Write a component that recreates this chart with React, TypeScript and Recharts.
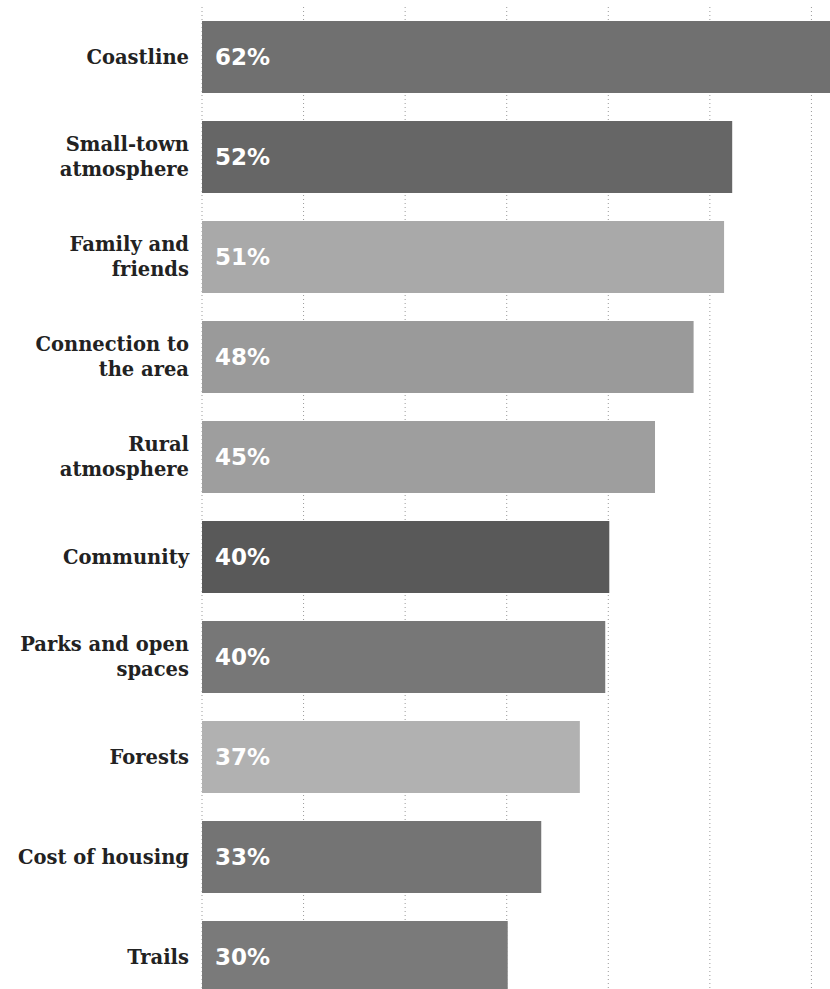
import React from "react";
import { BarChart, Bar, XAxis, YAxis, CartesianGrid, Cell, LabelList } from "recharts";

const categories: string[] = [
  "Coastline",
  "Small-town atmosphere",
  "Family and friends",
  "Connection to the area",
  "Rural atmosphere",
  "Community",
  "Parks and open spaces",
  "Forests",
  "Cost of housing",
  "Trails",
];

const categoryLines: string[][] = [
  ["Coastline"],
  ["Small-town", "atmosphere"],
  ["Family and", "friends"],
  ["Connection to", "the area"],
  ["Rural", "atmosphere"],
  ["Community"],
  ["Parks and open", "spaces"],
  ["Forests"],
  ["Cost of housing"],
  ["Trails"],
];

const shares: number[] = [62, 52.2, 51.4, 48.4, 44.6, 40.1, 39.7, 37.2, 33.4, 30.1];

const barColors: string[] = [
  "#707070",
  "#666666",
  "#a9a9a9",
  "#9a9a9a",
  "#9e9e9e",
  "#595959",
  "#777777",
  "#b1b1b1",
  "#747474",
  "#7a7a7a",
];

const xTicks: number[] = [0, 10, 20, 30, 40, 50, 60, 70];

const data = categories.map((c, i) => ({ name: c, value: shares[i], idx: i }));

const CategoryTick = (props: any) => {
  const { x, y, payload } = props;
  const idx = categories.indexOf(payload.value);
  const lines = idx >= 0 ? categoryLines[idx] : [payload.value];
  const lh = 25;
  const start = -((lines.length - 1) * lh) / 2;
  return (
    <g>
      {lines.map((ln, k) => (
        <text
          key={k}
          x={x - 5}
          y={y + start + k * lh}
          textAnchor="end"
          dominantBaseline="central"
          fontFamily="'DejaVu Serif', serif"
          fontWeight={600}
          fontSize={19.5}
          fill="#222"
        >
          {ln}
        </text>
      ))}
    </g>
  );
};

const ValueLabel = (props: any) => {
  const { x, y, height, value } = props;
  return (
    <text
      x={x + 13}
      y={y + height / 2}
      textAnchor="start"
      dominantBaseline="central"
      fontFamily="'DejaVu Sans', sans-serif"
      fontWeight={700}
      fontSize={23}
      fill="#ffffff"
    >
      {Math.round(value)}%
    </text>
  );
};

export default function App() {
  return (
    <div
      style={{
        position: "absolute",
        left: 0,
        top: 0,
        width: 830,
        height: 989,
        overflow: "hidden",
        background: "#fff",
      }}
    >
      <BarChart
        width={913}
        height={1007}
        data={data}
        layout="vertical"
        margin={{ top: 7, right: 0, bottom: 0, left: 0 }}
        barCategoryGap={28}
      >
        <CartesianGrid
          horizontal={false}
          vertical={true}
          stroke="#9a9a9a"
          strokeDasharray="1 3"
        />
        <XAxis type="number" domain={[0, 70]} ticks={xTicks} hide />
        <YAxis
          type="category"
          dataKey="name"
          width={202}
          axisLine={false}
          tickLine={false}
          tick={<CategoryTick />}
          interval={0}
        />
        <Bar dataKey="value" isAnimationActive={false} barSize={72}>
          {data.map((d, i) => (
            <Cell key={i} fill={barColors[i]} />
          ))}
          <LabelList dataKey="value" content={<ValueLabel />} />
        </Bar>
      </BarChart>
    </div>
  );
}
